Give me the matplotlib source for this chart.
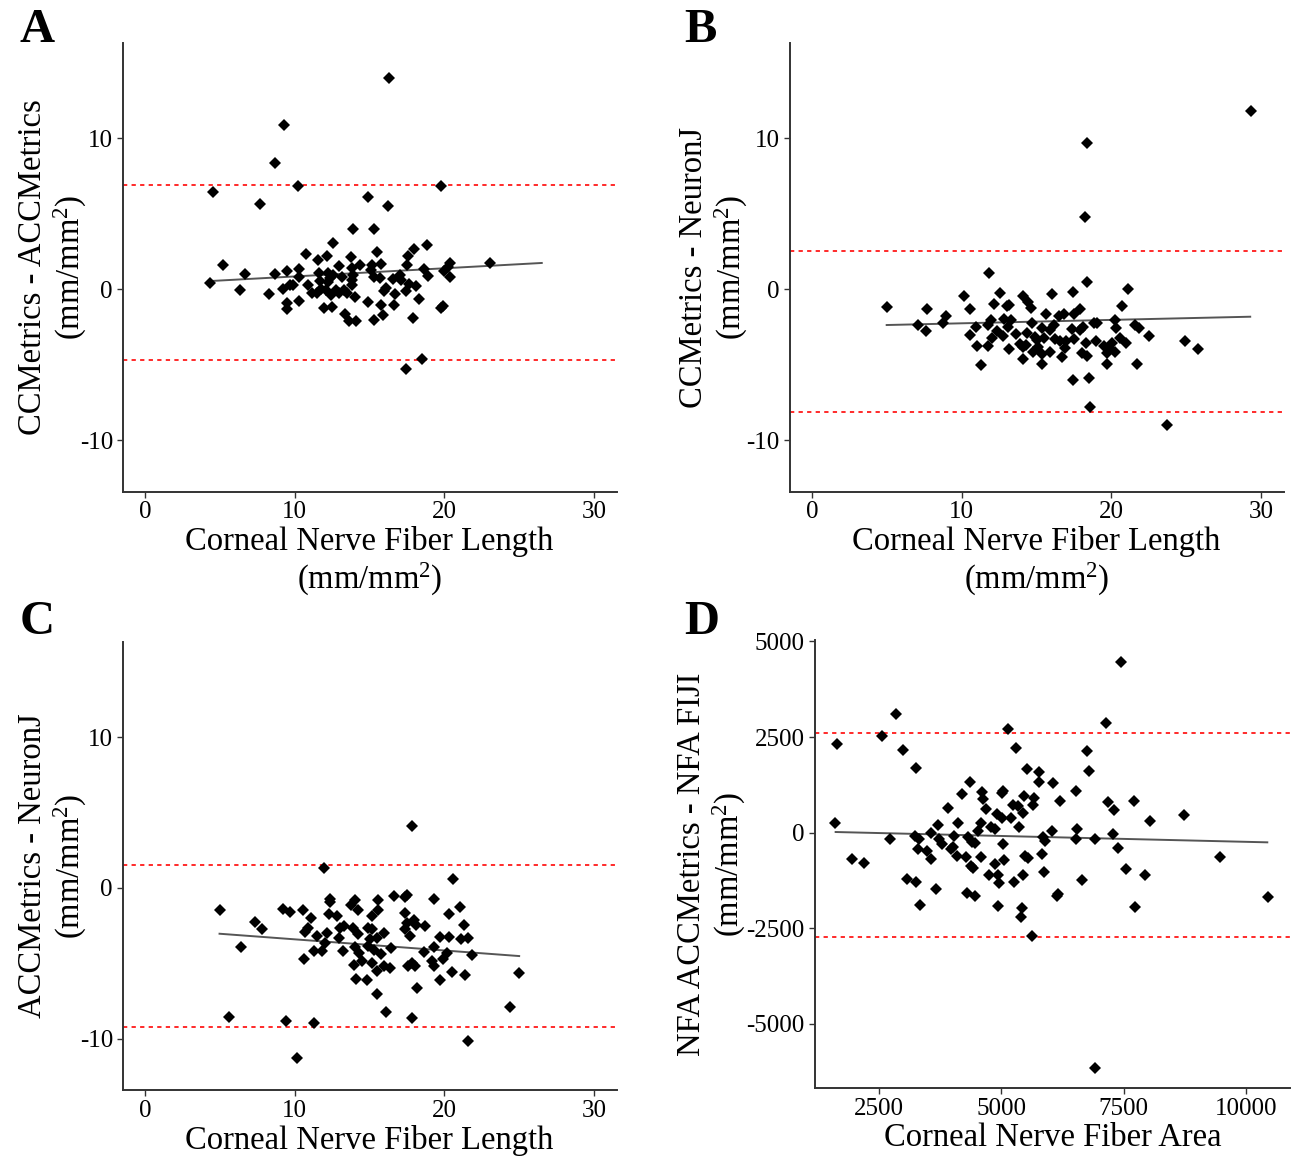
import matplotlib
matplotlib.use("Agg")
import matplotlib.pyplot as plt

plt.rcParams['font.family'] = ['Liberation Serif', 'DejaVu Serif']
plt.rcParams['mathtext.fontset'] = 'custom'
plt.rcParams['mathtext.rm'] = 'Liberation Serif'
plt.rcParams['mathtext.it'] = 'Liberation Serif:italic'
plt.rcParams['axes.unicode_minus'] = False

# ---------------- Panel A: CCMetrics - ACCMetrics ----------------
a_x = [16.30, 9.31, 8.69, 4.54, 10.22, 19.80, 7.66, 14.90, 16.24, 13.90, 15.28, 12.56,
       18.80, 17.95, 10.78, 15.52, 11.54, 12.16, 13.74, 17.57, 5.17, 20.38, 23.03, 6.66,
       8.66, 9.49, 10.29, 10.27, 4.30, 6.33, 8.29, 9.22, 9.71, 9.91, 9.51, 9.51, 10.29,
       10.91, 11.60, 11.65, 11.14, 11.45, 11.94, 12.49, 11.76, 12.09, 12.20, 12.34, 12.25,
       12.52, 12.98, 13.14, 12.76, 12.41, 12.92, 13.30, 13.47, 13.32, 13.63, 14.12, 13.81,
       13.88, 13.81, 13.83, 14.03, 14.37, 14.92, 15.17, 15.10, 15.26, 15.77, 15.70, 15.30,
       15.77, 15.92, 16.08, 15.95, 16.53, 16.70, 16.61, 17.06, 17.10, 17.42, 17.48, 17.64,
       18.11, 18.31, 17.88, 18.64, 18.89, 19.78, 19.87, 19.98, 20.38, 20.22, 17.42, 18.49]
a_y = [14.03, 10.87, 8.40, 6.47, 6.87, 6.85, 5.63, 6.10, 5.55, 4.00, 4.00, 3.09,
       2.92, 2.70, 2.32, 2.45, 1.92, 2.23, 2.17, 2.23, 1.61, 1.77, 1.77, 0.99,
       0.99, 1.22, 1.37, 0.82, 0.40, -0.07, -0.33, 0.00, 0.29, 0.29, -0.88, -1.33, -0.75,
       0.29, 1.10, 0.55, -0.22, -0.22, -1.24, -1.17, 0.00, -0.04, 1.06, 0.73, 0.51,
       0.95, 1.55, 0.82, -0.04, -0.38, -0.27, -0.04, -0.27, -1.63, -2.08, -2.08, 1.39,
       0.95, 0.62, 0.29, -0.49, 1.61, -0.86, 1.61, 1.28, 0.84, 1.70, 0.73, -2.03,
       -1.02, -1.72, 0.07, -0.09, 0.66, -0.33, -1.02, 0.95, 0.62, -0.11, 1.61, 0.38,
       0.22, -0.64, -1.92, 1.33, 0.88, -1.26, -1.08, 1.19, 0.82, 1.50, -5.26, -4.64]
a_loa = [6.90, -4.69]
a_fit_x = [4.30, 26.50]
a_fit_y = [0.55, 1.75]

# ---------------- Panel B: CCMetrics - NeuronJ ----------------
b_x = [29.29, 18.37, 18.22, 11.83, 18.37, 21.09, 4.99, 7.68, 7.08, 7.62, 8.93, 8.78,
       10.18, 10.58, 10.56, 10.98, 11.00, 11.29, 11.74, 11.74, 11.96, 12.03, 12.14, 12.36,
       12.58, 12.78, 12.85, 13.03, 13.16, 13.12, 13.16, 13.32, 13.63, 13.88, 14.10, 14.45,
       14.61, 14.12, 14.08, 14.32, 14.34, 14.72, 14.90, 15.01, 14.74, 15.12, 15.39, 15.35,
       15.35, 15.50, 15.63, 15.90, 15.88, 16.04, 16.19, 16.24, 16.53, 16.57, 16.84, 16.93,
       16.68, 16.95, 17.44, 17.39, 17.53, 17.44, 17.93, 17.91, 18.08, 17.51, 18.04, 18.29,
       18.35, 18.53, 18.55, 18.86, 19.02, 19.00, 19.53, 19.69, 19.69, 19.87, 20.02, 20.24,
       20.33, 20.27, 20.58, 20.71, 20.98, 21.60, 21.87, 21.74, 22.49, 24.92, 25.77, 23.74]
b_y = [11.80, 9.72, 4.77, 1.08, 0.46, 0.00, -1.17, -1.30, -2.39, -2.76, -1.77, -2.25,
       -0.46, -1.30, -3.03, -2.47, -3.78, -5.02, -3.73, -2.39, -2.03, -3.25, -0.99, -2.74,
       -0.22, -3.09, -1.94, -1.10, -1.02, -2.52, -3.93, -2.05, -2.94, -3.65, -0.46, -0.84,
       -1.26, -4.64, -3.84, -3.69, -2.87, -2.25, -3.14, -3.36, -4.15, -3.80, -4.29, -4.95,
       -2.59, -3.25, -1.63, -2.70, -4.18, -0.31, -2.36, -3.31, -1.75, -3.42, -1.63, -3.91,
       -4.46, -3.40, -0.15, -2.61, -1.61, -6.03, -1.33, -2.70, -2.47, -3.31, -4.24, -3.58,
       -4.42, -5.86, -7.80, -2.25, -2.25, -3.40, -3.76, -4.24, -4.95, -3.91, -3.58, -2.01,
       -2.56, -4.18, -3.25, -1.10, -3.54, -2.39, -2.54, -4.95, -3.09, -3.40, -3.93, -8.95]
b_loa = [2.56, -8.15]
b_fit_x = [4.99, 29.27]
b_fit_y = [-2.36, -1.81]

# ---------------- Panel C: ACCMetrics - NeuronJ ----------------
c_x = [17.86, 11.98, 20.60, 4.97, 7.35, 7.80, 6.41, 9.22, 9.69, 10.56, 11.09, 10.62,
       10.89, 10.71, 11.47, 11.31, 11.80, 12.03, 12.16, 12.34, 12.34, 12.29, 12.81, 12.92,
       13.21, 13.05, 13.27, 13.76, 14.03, 14.19, 13.90, 14.19, 14.03, 14.32, 13.96, 14.48,
       14.12, 14.83, 14.88, 15.14, 15.59, 15.59, 15.14, 15.52, 15.03, 14.92, 15.26, 15.14,
       15.52, 15.79, 15.95, 15.97, 16.37, 16.41, 15.52, 16.08, 16.61, 17.33, 17.48, 17.33,
       17.39, 17.48, 17.93, 18.11, 17.71, 17.59, 17.82, 18.04, 18.17, 17.86, 18.71, 18.64,
       19.27, 19.33, 19.15, 19.27, 19.67, 19.73, 19.91, 20.20, 20.31, 20.27, 20.51, 21.07,
       21.31, 21.11, 21.60, 21.83, 21.38, 21.54, 24.97, 24.41, 5.63, 9.38, 11.31, 10.16]
c_y = [4.10, 1.29, 0.56, -1.47, -2.24, -2.71, -3.94, -1.38, -1.62, -1.47, -2.02, -4.70,
       -2.64, -2.93, -3.19, -4.19, -4.19, -3.63, -2.97, -0.76, -0.94, -1.71, -1.87, -3.30,
       -4.19, -2.68, -2.53, -1.16, -0.78, -1.47, -2.64, -3.08, -3.90, -4.30, -5.09, -4.87,
       -6.04, -6.11, -2.64, -1.87, -0.78, -1.49, -2.75, -3.30, -3.41, -3.86, -4.14, -5.00,
       -5.49, -4.41, -2.97, -5.18, -5.31, -3.99, -7.02, -8.25, -0.56, -0.61, -0.50, -1.69,
       -2.71, -2.31, -2.15, -2.49, -3.19, -5.18, -4.96, -5.18, -6.64, -8.65, -2.53, -4.25,
       -0.72, -3.92, -4.85, -5.18, -3.24, -6.11, -4.70, -4.30, -1.71, -3.24, -5.56, -1.25,
       -2.46, -3.41, -3.33, -4.47, -5.78, -10.17, -5.62, -7.88, -8.58, -8.80, -8.96, -11.26]
c_loa = [1.51, -9.22]
c_fit_x = [4.97, 24.99]
c_fit_y = [-3.04, -4.52]

# ---------------- Panel D: NFA ACCMetrics - NFA FIJI ----------------
d_x = [7440, 2848, 7133, 2561, 5130, 1648, 2991, 5293, 6758, 3250, 6799, 5525,
       5777, 5777, 6056, 4360, 4203, 4612, 4633, 5007, 5028, 5232, 5334, 5464,
       5661, 5655, 6206, 6533, 7181, 7303, 7705, 8727, 8039, 3917, 4680, 4905,
       5007, 5198, 5450, 5368, 4585, 4789, 4871, 4530, 4108, 3706, 1608, 3570,
       3236, 3324, 2725, 3726, 3788, 4033, 4006, 3972, 4326, 4394, 4462, 5035,
       5859, 5893, 6043, 6540, 6527, 6922, 7276, 7392, 3290, 3488, 3556, 4088,
       4271, 4380, 4428, 4585, 4871, 5048, 5477, 5552, 5825, 5873, 1941, 2200,
       3079, 3256, 3345, 3658, 4292, 4469, 4748, 4939, 4946, 4932, 5253, 5450,
       5416, 5396, 5634, 6145, 6165, 6656, 7542, 7944, 7732, 9470, 10444, 6922]
d_y = [4472, 3104, 2860, 2520, 2703, 2311, 2162, 2223, 2128, 1700, 1613, 1674,
       1578, 1334, 1308, 1334, 1003, 1064, 872, 1029, 1090, 724, 698, 951,
       916, 724, 820, 1099, 794, 602, 820, 454, 306, 637, 611, 480,
       393, 393, 515, 157, 245, 157, 88, 53, 245, 210, 245, -17,
       -87, -165, -156, -174, -296, -87, -366, -427, -104, -235, -261, -305,
       -104, -209, 53, 88, -165, -165, -34, -400, -427, -479, -679, -610,
       -645, -871, -915, -645, -828, -706, -610, -653, -557, -1037, -697, -793,
       -1220, -1290, -1891, -1464, -1586, -1647, -1098, -1115, -1307, -1917, -1281, -1098,
       -1969, -2196, -2710, -1656, -1603, -1246, -950, -1098, -1943, -645, -1673, -6145]
d_loa = [2598, -2719]
d_fit_x = [1614, 10437]
d_fit_y = [18, -252]

# ---------------- labels ----------------
panel_letters = ["A", "B", "C", "D"]
y_titles = ["CCMetrics - ACCMetrics\n(mm/mm$^{2}$)",
            "CCMetrics - NeuronJ\n(mm/mm$^{2}$)",
            "ACCMetrics - NeuronJ\n(mm/mm$^{2}$)",
            "NFA ACCMetrics - NFA FIJI\n(mm/mm$^{2}$)"]
x_titles = ["Corneal Nerve Fiber Length\n(mm/mm$^{2}$)",
            "Corneal Nerve Fiber Length\n(mm/mm$^{2}$)",
            "Corneal Nerve Fiber Length",
            "Corneal Nerve Fiber Area"]
len_xticks = [0, 10, 20, 30]
len_yticks = [-10, 0, 10]
area_xticks = [2500, 5000, 7500, 10000]
area_yticks = [-5000, -2500, 0, 2500, 5000]

W, H = 1293, 1158
fig = plt.figure(figsize=(W / 100, H / 100), dpi=100)


def add_axes(left, top, right, bottom):
    return fig.add_axes([left / W, 1 - bottom / H, (right - left) / W, (bottom - top) / H])


axes = [add_axes(122.7, 43.3, 616.6, 491.7),
        add_axes(789.5, 43.3, 1283.6, 491.7),
        add_axes(122.7, 642.0, 616.6, 1090.0),
        add_axes(814.5, 640.0, 1290.0, 1088.0)]

data = [(a_x, a_y, a_loa, a_fit_x, a_fit_y),
        (b_x, b_y, b_loa, b_fit_x, b_fit_y),
        (c_x, c_y, c_loa, c_fit_x, c_fit_y),
        (d_x, d_y, d_loa, d_fit_x, d_fit_y)]

ylab_x = [-0.068, -0.080, -0.068, -0.139]
xlab_y = [-0.076, -0.076, -0.078, -0.078]

for i, ax in enumerate(axes):
    x, y, loa, fx, fy = data[i]
    for v in loa:
        ax.axhline(v, color='#ff2a2a', lw=1.4, ls=(0, (2.2, 2.2)), zorder=1)
    ax.plot(fx, fy, color='#555555', lw=1.4, zorder=2)
    ax.plot(x, y, ls='none', marker='D', ms=5.8, color='black', mec='black', mew=0, zorder=3)

    if i < 3:
        ax.set_xlim(-1.5, 31.5)
        ax.set_ylim(-13.4, 16.3)
        ax.set_xticks(len_xticks)
        ax.set_yticks(len_yticks)
    else:
        ax.set_xlim(1182, 10901)
        ax.set_ylim(-6676, 5039)
        ax.set_xticks(area_xticks)
        ax.set_yticks(area_yticks)

    for s in ['top', 'right']:
        ax.spines[s].set_visible(False)
    for s in ['left', 'bottom']:
        ax.spines[s].set_color('#333333')
        ax.spines[s].set_linewidth(1.4)
    ax.tick_params(axis='both', length=4, width=1.0, color='#333333',
                   labelsize=18, labelcolor='black', pad=3)
    ax.set_ylabel(y_titles[i], fontsize=23.5, linespacing=1.15)
    ax.yaxis.set_label_coords(ylab_x[i], 0.5)
    ax.set_xlabel(x_titles[i], fontsize=23.5, linespacing=1.15)
    ax.xaxis.set_label_coords(0.5, xlab_y[i])

letter_pos = [(20, 42), (684, 42), (20, 634), (684, 634)]
for lt, (px, py) in zip(panel_letters, letter_pos):
    fig.text(px / W, 1 - py / H, lt, fontsize=35, fontweight='bold', va='baseline', ha='left')

fig.savefig("out.png", dpi=100, facecolor='white')
